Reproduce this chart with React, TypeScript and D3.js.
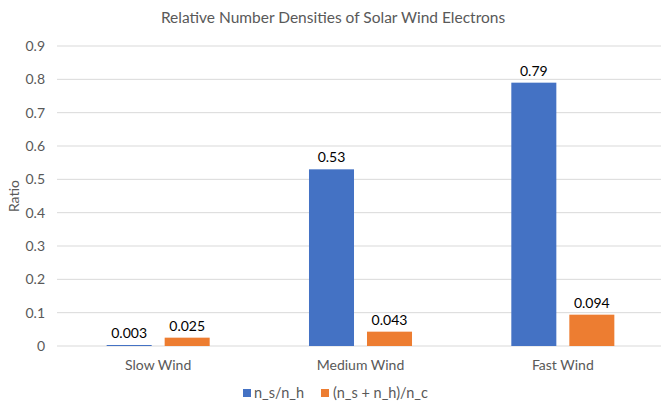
import React from "react";
import * as d3 from "d3";

const categories = ["Slow Wind", "Medium Wind", "Fast Wind"];
const seriesNames = ["n_s/n_h", "(n_s + n_h)/n_c"];
const seriesA = [0.003, 0.53, 0.79];
const seriesB = [0.025, 0.043, 0.094];
const labelsA = ["0.003", "0.53", "0.79"];
const labelsB = ["0.025", "0.043", "0.094"];
const yTicks = [0, 0.1, 0.2, 0.3, 0.4, 0.5, 0.6, 0.7, 0.8, 0.9];
const colors = ["#4472C4", "#ED7D31"];

const W = 661, H = 401;
const FONT = "Lato, 'Open Sans', sans-serif";

export default function App() {
  const x0 = d3.scaleBand().domain(categories).range([57, 664]).padding(0);
  const x1 = d3.scaleBand().domain(seriesNames).range([0, x0.bandwidth()]).paddingInner(0.224).paddingOuter(0.856);
  const y = d3.scaleLinear().domain([0, 0.9]).range([346, 46]);
  const series = [seriesA, seriesB];
  const labels = [labelsA, labelsB];

  return (
    <svg width={W} height={H} style={{ position: "absolute", left: 0, top: 0, fontFamily: FONT }}>
      <rect width={W} height={H} fill="#fff" />
      <text x={333} y={23} textAnchor="middle" fontSize={15.5} fill="#595959">
        Relative Number Densities of Solar Wind Electrons
      </text>
      {yTicks.map((t) => (
        <g key={t}>
          <line x1={57} x2={664} y1={y(t)} y2={y(t)} stroke="#D9D9D9" strokeWidth={1} />
          <text x={45} y={y(t)} dy="0.35em" textAnchor="end" fontSize={14} fill="#595959">
            {d3.format("")(t)}
          </text>
        </g>
      ))}
      <text transform={`translate(14,${(y(0) + y(0.9)) / 2}) rotate(-90)`} textAnchor="middle" fontSize={14} fill="#595959" dy="0.35em">
        Ratio
      </text>
      {categories.map((c, i) => (
        <g key={c} transform={`translate(${x0(c)},0)`}>
          {seriesNames.map((s, j) => {
            const v = series[j][i];
            const bx = x1(s)!;
            const bw = x1.bandwidth();
            return (
              <g key={s}>
                <rect x={bx} y={y(v)} width={bw} height={y(0) - y(v)} fill={colors[j]} />
                <text x={bx + bw / 2} y={y(v) - 7} textAnchor="middle" fontSize={14} fill="#000">
                  {labels[j][i]}
                </text>
              </g>
            );
          })}
          <text x={x0.bandwidth() / 2} y={370} textAnchor="middle" fontSize={14} fill="#595959">
            {c}
          </text>
        </g>
      ))}
      <g>
        <rect x={243} y={389} width={8} height={8} fill={colors[0]} />
        <text x={254} y={393} dy="0.35em" fontSize={14.5} fill="#595959">{seriesNames[0]}</text>
        <rect x={321} y={389} width={8} height={8} fill={colors[1]} />
        <text x={333} y={393} dy="0.35em" fontSize={14.5} fill="#595959">{seriesNames[1]}</text>
      </g>
    </svg>
  );
}
